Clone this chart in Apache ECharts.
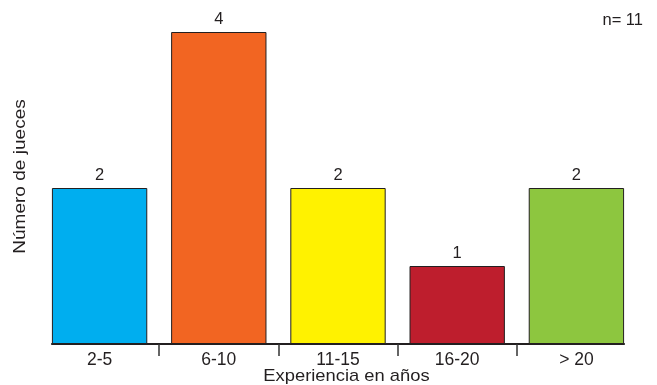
<!DOCTYPE html>
<html>
<head>
<meta charset="utf-8">
<script src="https://cdn.jsdelivr.net/npm/echarts@6/dist/echarts.min.js"></script>
<style>
  html, body { margin: 0; padding: 0; background: #fff; }
  #chart { width: 657px; height: 385px; }
</style>
</head>
<body>
<div id="chart"></div>
<script>
// Years of experience of the judges, grouped by range
const categories = ['2-5', '6-10', '11-15', '16-20', '> 20'];
const judgeCounts = [2, 4, 2, 1, 2];
const barColors = ['#00aeef', '#f26522', '#fff200', '#be1e2d', '#8dc63f'];

const total = judgeCounts.reduce((a, b) => a + b, 0);
const FONT = 'Liberation Sans, Arial, Helvetica, sans-serif';
const INK = '#231f20';

// plot area shared by the three grids
const plotTop = 32, plotHeight = 312;
const plotLeft = 40, plotWidth = 596;
const band = plotWidth / categories.length;

const chart = echarts.init(document.getElementById('chart'));
chart.setOption({
  animation: false,
  backgroundColor: '#fff',
  textStyle: { fontFamily: FONT },
  grid: [
    // bars
    { left: plotLeft, width: plotWidth, top: plotTop, height: plotHeight },
    // baseline spanning the outer edges of the bars
    { left: plotLeft + band * 0.1, width: plotWidth - band * 0.2, top: plotTop, height: plotHeight },
    // separator ticks between categories
    { left: plotLeft + band, width: band * (categories.length - 2), top: plotTop, height: plotHeight }
  ],
  xAxis: [
    {
      gridIndex: 0, type: 'category', data: categories,
      axisLine: { show: false }, axisTick: { show: false },
      axisLabel: { color: INK, fontSize: 17.5, margin: 7, fontFamily: FONT }
    },
    {
      gridIndex: 1, type: 'value', min: 0, max: 1,
      axisLine: { show: true, lineStyle: { color: INK, width: 2 } },
      axisTick: { show: false }, axisLabel: { show: false }, splitLine: { show: false }
    },
    {
      gridIndex: 2, type: 'value', min: 0, max: categories.length - 2, interval: 1,
      axisLine: { show: false },
      axisTick: { show: true, length: 12, lineStyle: { color: '#333', width: 1.5 } },
      axisLabel: { show: false }, splitLine: { show: false }
    }
  ],
  yAxis: [
    { gridIndex: 0, type: 'value', min: 0, max: 4, show: false },
    { gridIndex: 1, type: 'value', min: 0, max: 1, show: false },
    { gridIndex: 2, type: 'value', min: 0, max: 1, show: false }
  ],
  series: [{
    type: 'bar',
    xAxisIndex: 0, yAxisIndex: 0,
    barWidth: band * 0.8,
    data: judgeCounts.map((v, i) => ({
      value: v,
      itemStyle: { color: barColors[i], borderColor: INK, borderWidth: 1 }
    })),
    label: {
      show: true, position: 'top', distance: 4,
      color: INK, fontSize: 16.5, fontFamily: FONT
    }
  }],
  graphic: [
    {
      type: 'text', x: 346.5, y: 376, scaleX: 1.08,
      style: { text: 'Experiencia en años', fill: INK, font: '17px ' + FONT, align: 'center', verticalAlign: 'middle' }
    },
    {
      type: 'text', x: 20, y: 176.5, rotation: Math.PI / 2, scaleX: 1.12,
      style: { text: 'Número de jueces', fill: INK, font: '17px ' + FONT, align: 'center', verticalAlign: 'middle' }
    },
    {
      type: 'text', x: 643, y: 20,
      style: { text: 'n= ' + total, fill: INK, font: '16.5px ' + FONT, align: 'right', verticalAlign: 'middle' }
    }
  ]
});
</script>
</body>
</html>
